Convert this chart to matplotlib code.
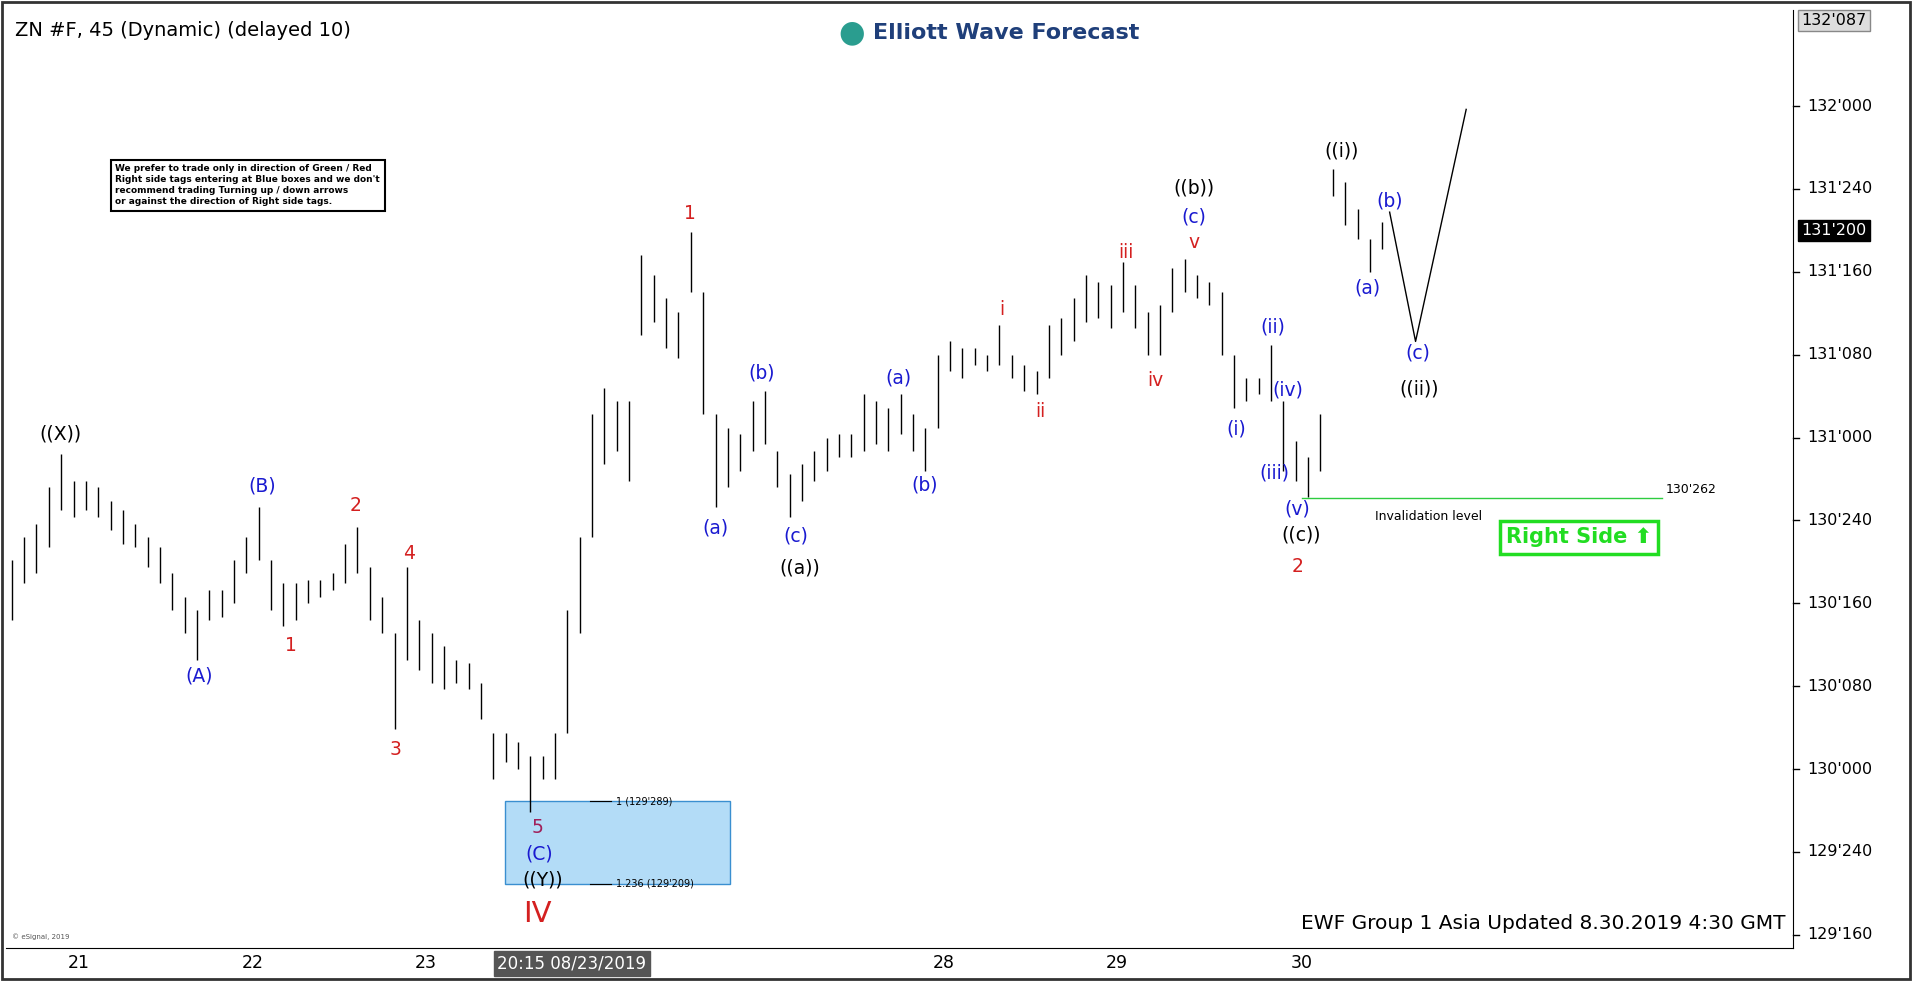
import matplotlib
matplotlib.use("Agg")
import matplotlib.pyplot as plt
from matplotlib.patches import Rectangle
import numpy as np

highs = [130.63,130.70,130.74,130.85,130.95,130.87,130.87,130.85,130.81,130.78,130.74,130.70,130.67,130.59,130.52,130.48,
         130.54,130.54,130.63,130.70,130.79,130.63,130.56,130.56,130.57,130.57,130.59,130.68,130.73,130.61,130.52,130.41,
         130.61,130.45,130.41,130.37,130.33,130.32,130.26,130.11,130.11,130.08,130.04,130.04,130.11,130.48,130.70,131.07,
         131.15,131.11,131.11,131.55,131.49,131.42,131.38,131.62,131.44,131.07,131.03,131.01,131.11,131.14,130.96,130.89,
         130.92,130.96,131.00,131.01,131.01,131.13,131.11,131.09,131.13,131.07,131.03,131.25,131.29,131.27,131.27,131.25,
         131.34,131.25,131.22,131.20,131.34,131.36,131.42,131.49,131.47,131.46,131.53,131.46,131.38,131.40,131.51,131.54,
         131.49,131.47,131.44,131.25,131.18,131.18,131.28,131.11,130.99,130.94,131.07,131.81,131.77,131.69,131.60,131.65]
lows = [130.45,130.56,130.59,130.67,130.78,130.76,130.78,130.76,130.72,130.68,130.67,130.61,130.56,130.48,130.41,130.33,
        130.45,130.46,130.50,130.59,130.63,130.48,130.43,130.45,130.50,130.52,130.54,130.56,130.59,130.45,130.41,130.12,
        130.33,130.30,130.26,130.24,130.26,130.24,130.15,129.97,130.02,130.00,129.87,129.97,129.97,130.11,130.41,130.70,
        130.92,130.96,130.87,131.31,131.35,131.27,131.24,131.44,131.07,130.79,130.85,130.90,130.96,130.98,130.85,130.76,
        130.81,130.87,130.90,130.94,130.94,130.96,130.98,130.96,131.01,130.96,130.90,131.03,131.20,131.18,131.22,131.20,
        131.22,131.18,131.14,131.13,131.18,131.25,131.29,131.35,131.36,131.33,131.38,131.33,131.25,131.25,131.38,131.44,
        131.42,131.40,131.25,131.09,131.11,131.13,131.11,130.90,130.87,130.82,130.90,131.73,131.64,131.60,131.50,131.57]
day_labels = ["21", "22", "23", "28", "29", "30"]
day_pos = [5.4, 19.5, 33.5, 75.5, 89.5, 104.5]
proj_x = [111.6, 113.7, 117.8]
proj_y = [131.68, 131.29, 131.99]
invalidation = 130 + 26.2/32
fib_1 = 129 + 28.9/32
fib_1236 = 129 + 20.9/32
last_price = 131 + 20.0/32

W, H = 1568, 805
fig = plt.figure(figsize=(19.12, 9.81), dpi=100)
ax = fig.add_axes([0.003, 1-778/H, 1466/W, (778-8)/H])
x0, x1 = -0.49, 144.3
def py2p(y): return 132.32 - y/272
def px2i(x): return (x-5)/10.14
ax.set_xlim(x0, x1)
ax.set_ylim(py2p(778), py2p(8))
def P(x, y): return px2i(x), py2p(y)

idx = np.arange(len(highs))
ax.vlines(idx, lows, highs, color='black', lw=1.0)

bx0, by0 = P(410, 728)
bx1, by1 = P(595, 659)
ax.add_patch(Rectangle((bx0, fib_1236), bx1-bx0, fib_1-fib_1236, facecolor='#b3dcf7', edgecolor='#3a8fd0', lw=1))
for lv, t in [(fib_1, "1 (129'289)"), (fib_1236, "1.236 (129'209)")]:
    ax.plot([px2i(480), px2i(497)], [lv, lv], color='black', lw=0.8)
    ax.text(px2i(501), lv, t, fontsize=7, va='center')

ax.plot([px2i(1065), px2i(1360)], [invalidation, invalidation], color='#2ecc40', lw=1)
ax.text(*P(1363, 402), "130'262", fontsize=9, va='center')
ax.text(*P(1125, 424), "Invalidation level", fontsize=9, va='center')
ax.plot(proj_x, proj_y, color='black', lw=1)

blue, red, blk = '#1a1ad0', '#d42020', 'black'
labels = [("((X))",45,356,blk),("(B)",211,399,blue),("(A)",159,555,blue),("2",287,415,red),("1",234,530,red),
          ("4",331,454,red),("3",320,615,red),("5",437,679,'#a0205a'),("(C)",438,701,blue),("((Y))",441,722,blk),
          ("1",562,175,red),("(b)",621,306,blue),("(a)",583,433,blue),("(c)",649,440,blue),("((a))",652,466,blk),
          ("(a)",733,310,blue),("(b)",755,398,blue),("i",818,254,red),("ii",850,338,red),("iii",920,207,red),
          ("iv",944,312,red),("v",976,199,red),("(c)",976,178,blue),("((b))",976,154,blk),("(i)",1011,352,blue),
          ("(ii)",1041,268,blue),("(iv)",1053,320,blue),("(iii)",1042,388,blue),("(v)",1061,418,blue),
          ("((c))",1064,439,blk),("2",1061,465,red),("((i))",1097,124,blk),("(b)",1137,165,blue),("(a)",1118,236,blue),
          ("(c)",1160,290,blue),("((ii))",1161,319,blk)]
for t, x, y, c in labels:
    ax.text(*P(x, y), t, color=c, fontsize=13.5, ha='center', va='center')
ax.text(*P(437, 750), "IV", color=red, fontsize=21, ha='center', va='center')

ax.text(*P(1292, 441), "Right Side ⬆", color='#22dd22', fontsize=15, fontweight='bold', ha='center', va='center',
        family=['Liberation Sans Narrow', 'DejaVu Sans'],
        bbox=dict(boxstyle='square,pad=0.3', fc='white', ec='#22dd22', lw=2.5))

ax.text(*P(8, 25), "ZN #F, 45 (Dynamic) (delayed 10)", fontsize=14, va='center')
ax.text(*P(712, 27), "Elliott Wave Forecast", fontsize=16, fontweight='bold', color='#1f3f7a', va='center')
ax.text(*P(695, 27), "●", fontsize=22, color='#2a9d8f', ha='center', va='center')
ax.text(*P(90, 152), "We prefer to trade only in direction of Green / Red\nRight side tags entering at Blue boxes and we don't\n"
        "recommend trading Turning up / down arrows\nor against the direction of Right side tags.",
        fontsize=6.5, fontweight='bold', va='center', linespacing=1.3,
        bbox=dict(boxstyle='square,pad=0.5', fc='white', ec='black', lw=1.5))
ax.text(*P(1462, 758), "EWF Group 1 Asia Updated 8.30.2019 4:30 GMT", fontsize=14.5, ha='right', va='center')
ax.text(*P(5, 769), "© eSignal, 2019", fontsize=5, va='center', color='#555')

ax.set_xticks([]); ax.set_yticks([])
for s in ['top', 'left']:
    ax.spines[s].set_visible(False)
def fmt(p):
    w = int(np.floor(p + 1e-9)); f = (p - w) * 32
    return f"{w}'{int(round(f*10)):03d}"
for p in np.arange(129.5, 132.01, 0.25):
    ax.annotate(fmt(p), (1, p), xycoords=('axes fraction', 'data'), xytext=(10, 0), textcoords='offset points',
                fontsize=11.5, va='center', annotation_clip=False)
    ax.plot([1, 1.003], [p, p], transform=ax.get_yaxis_transform(), color='black', lw=1, clip_on=False)
ax.annotate("132'087", (1, py2p(17)), xycoords=('axes fraction', 'data'), xytext=(6, 0), textcoords='offset points',
            fontsize=11.5, va='center', annotation_clip=False, bbox=dict(boxstyle='square,pad=0.2', fc='#dddddd', ec='#888'))
ax.annotate("131'200", (1, last_price), xycoords=('axes fraction', 'data'), xytext=(6, 0), textcoords='offset points',
            fontsize=11.5, va='center', color='white', annotation_clip=False,
            bbox=dict(boxstyle='square,pad=0.2', fc='black', ec='black'))
for lab, pos in zip(day_labels, day_pos):
    ax.annotate(lab, (pos, 0), xycoords=('data', 'axes fraction'), xytext=(0, -11), textcoords='offset points',
                fontsize=12.5, ha='center', va='center', annotation_clip=False)
ax.annotate("20:15 08/23/2019", (px2i(465), 0), xycoords=('data', 'axes fraction'), xytext=(0, -11),
            textcoords='offset points', fontsize=12, ha='center', va='center', color='white', annotation_clip=False,
            bbox=dict(boxstyle='square,pad=0.2', fc='#555555', ec='#555555'))
fig.patches.append(Rectangle((0.001, 0.002), 0.998, 0.996, transform=fig.transFigure, fill=False, ec='#333', lw=2))
fig.savefig("out.png", dpi=100)
